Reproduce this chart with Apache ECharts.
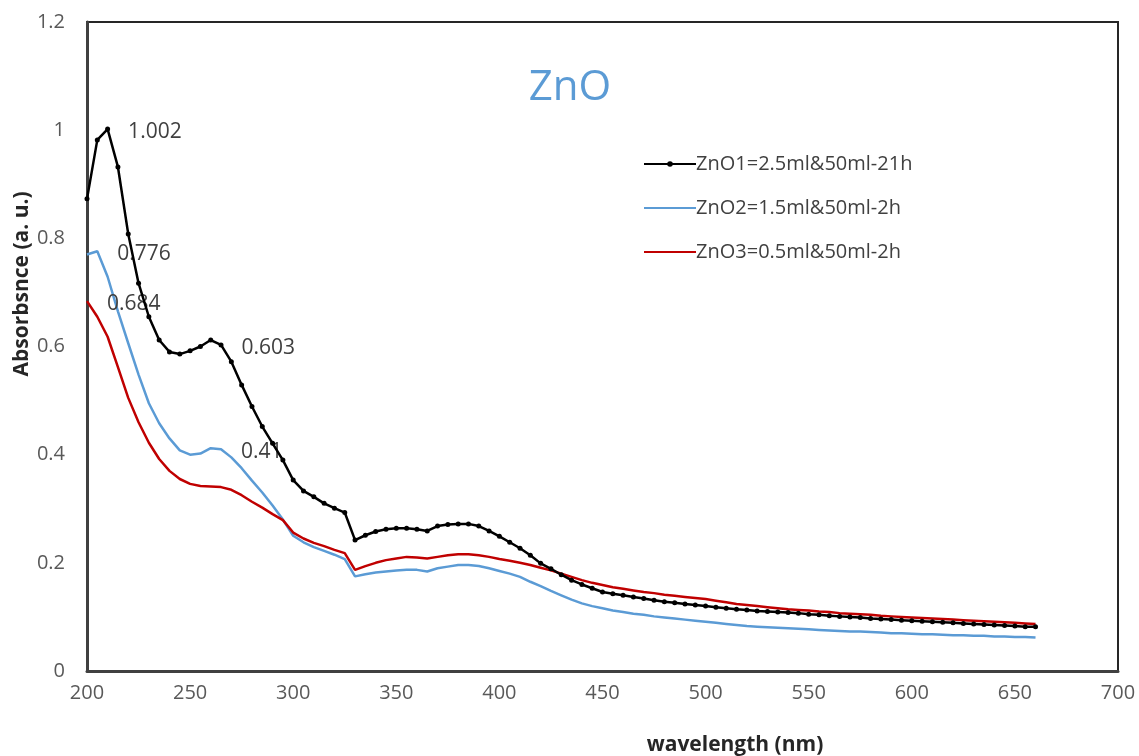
<!DOCTYPE html>
<html>
<head>
<meta charset="utf-8">
<script src="https://cdn.jsdelivr.net/npm/echarts@6/dist/echarts.min.js"></script>
<style>
html,body{margin:0;padding:0;background:#fff;}
#chart{width:1139px;height:756px;}
</style>
</head>
<body>
<div id="chart"></div>
<script>
// wavelengths (nm), 5 nm step
const wavelengths = [];
for (let w = 200; w <= 660; w += 5) wavelengths.push(w);

const seriesNames = ['ZnO1=2.5ml&50ml-21h', 'ZnO2=1.5ml&50ml-2h', 'ZnO3=0.5ml&50ml-2h'];

const zno1 = [0.873,0.982,1.002,0.932,0.808,0.717,0.655,0.612,0.590,0.586,
  0.592,0.600,0.612,0.603,0.572,0.529,0.489,0.452,0.421,0.390,
  0.353,0.333,0.322,0.310,0.301,0.293,0.242,0.251,0.258,0.262,
  0.264,0.264,0.262,0.259,0.268,0.271,0.272,0.272,0.268,0.259,
  0.249,0.238,0.227,0.214,0.199,0.189,0.178,0.168,0.160,0.153,
  0.146,0.143,0.140,0.137,0.134,0.131,0.128,0.126,0.124,0.122,
  0.120,0.118,0.116,0.114,0.113,0.111,0.110,0.109,0.108,0.107,
  0.105,0.104,0.102,0.101,0.100,0.099,0.097,0.096,0.095,0.094,
  0.093,0.092,0.091,0.090,0.089,0.088,0.087,0.086,0.085,0.084,
  0.083,0.082,0.082];

const zno2 = [0.770,0.776,0.729,0.665,0.606,0.548,0.495,0.458,0.430,0.408,
  0.400,0.402,0.412,0.410,0.395,0.375,0.352,0.330,0.306,0.280,
  0.250,0.238,0.229,0.222,0.215,0.207,0.175,0.179,0.182,0.184,
  0.186,0.187,0.187,0.184,0.190,0.193,0.196,0.196,0.194,0.190,
  0.185,0.180,0.174,0.165,0.157,0.148,0.140,0.132,0.125,0.120,
  0.116,0.112,0.109,0.106,0.104,0.101,0.099,0.097,0.095,0.093,
  0.091,0.089,0.087,0.085,0.083,0.082,0.081,0.080,0.079,0.078,
  0.077,0.076,0.075,0.074,0.073,0.073,0.072,0.071,0.070,0.070,
  0.069,0.068,0.068,0.067,0.066,0.066,0.065,0.065,0.064,0.064,
  0.063,0.063,0.062];

const zno3 = [0.684,0.655,0.618,0.562,0.505,0.460,0.422,0.392,0.370,0.355,
  0.346,0.342,0.341,0.340,0.335,0.325,0.313,0.302,0.290,0.279,
  0.256,0.245,0.237,0.231,0.224,0.218,0.187,0.194,0.200,0.205,
  0.208,0.211,0.210,0.208,0.211,0.214,0.216,0.216,0.214,0.211,
  0.207,0.204,0.200,0.196,0.191,0.186,0.180,0.174,0.168,0.163,
  0.159,0.155,0.152,0.149,0.146,0.144,0.141,0.139,0.137,0.135,
  0.133,0.130,0.127,0.124,0.122,0.120,0.118,0.116,0.114,0.113,
  0.112,0.110,0.109,0.107,0.106,0.105,0.104,0.102,0.101,0.100,
  0.099,0.098,0.097,0.096,0.095,0.094,0.093,0.092,0.091,0.090,
  0.089,0.088,0.087];

// wavelengths of points carrying a data label
const zno1Labelled = [210, 265];
const zno2Labelled = [205, 265];
const zno3Labelled = [200];

const FONT = '"Open Sans", Lato, sans-serif';

function build(values, labelled, dist) {
  return wavelengths.map((w, i) => {
    const d = { value: [w, values[i]] };
    if (labelled.indexOf(w) >= 0) {
      d.label = { show: true, position: 'right', distance: dist, offset: [0, 3], formatter: (p) => String(p.value[1]),
        color: '#404040', fontSize: 21, fontFamily: FONT };
    }
    return d;
  });
}

const chart = echarts.init(document.getElementById('chart'));
chart.setOption({
  animation: false,
  backgroundColor: '#fff',
  title: {
    text: 'ZnO', left: 565, top: 62, textAlign: 'center',
    textStyle: { color: '#5B9BD5', fontSize: 42, fontWeight: 'normal', fontFamily: FONT }
  },
  legend: {
    orient: 'vertical', left: 638, top: 149, itemGap: 24, itemWidth: 52, itemHeight: 7,
    textStyle: { color: '#404040', fontSize: 20, fontFamily: FONT, padding: [0, 0, 0, -5] },
    data: [
      { name: seriesNames[0] },
      { name: seriesNames[1], itemStyle: { opacity: 0 } },
      { name: seriesNames[2], itemStyle: { opacity: 0 } }
    ]
  },
  grid: { left: 87, right: 21, top: 22, bottom: 85, show: true, borderColor: '#262626', borderWidth: 2 },
  xAxis: {
    type: 'value', min: 200, max: 700, interval: 50,
    axisLine: { show: true, lineStyle: { color: '#404040', width: 3 } },
    axisTick: { show: false },
    splitLine: { show: false },
    axisLabel: { color: '#595959', fontSize: 20, fontFamily: FONT, margin: 12 }
  },
  yAxis: {
    type: 'value', min: 0, max: 1.2, interval: 0.2,
    axisLine: { show: true, lineStyle: { color: '#404040', width: 3 } },
    axisTick: { show: false },
    splitLine: { show: false },
    axisLabel: { color: '#595959', fontSize: 20, fontFamily: FONT, margin: 22 }
  },
  graphic: [
    { type: 'text', x: 735, y: 745, style: { text: 'wavelength (nm)', fill: '#262626', font: 'bold 21px ' + FONT, align: 'center', verticalAlign: 'middle' } },
    { type: 'text', rotation: Math.PI / 2, x: 22, y: 284, style: { text: 'Absorbsnce (a. u.)', fill: '#262626', font: 'bold 21px ' + FONT, align: 'center', verticalAlign: 'middle' } }
  ],
  series: [
    { name: seriesNames[0], type: 'line', data: build(zno1, zno1Labelled, 18), symbol: 'circle', symbolSize: 5, showAllSymbol: true,
      lineStyle: { color: '#000', width: 2.5 }, itemStyle: { color: '#000' }, z: 3 },
    { name: seriesNames[1], type: 'line', data: build(zno2, zno2Labelled, 20), symbol: 'circle', symbolSize: 0, showAllSymbol: true,
      lineStyle: { color: '#5B9BD5', width: 2.5 }, itemStyle: { color: '#5B9BD5' }, z: 2 },
    { name: seriesNames[2], type: 'line', data: build(zno3, zno3Labelled, 20), symbol: 'circle', symbolSize: 0, showAllSymbol: true,
      lineStyle: { color: '#C00000', width: 2.5 }, itemStyle: { color: '#C00000' }, z: 2 }
  ]
});
</script>
</body>
</html>
